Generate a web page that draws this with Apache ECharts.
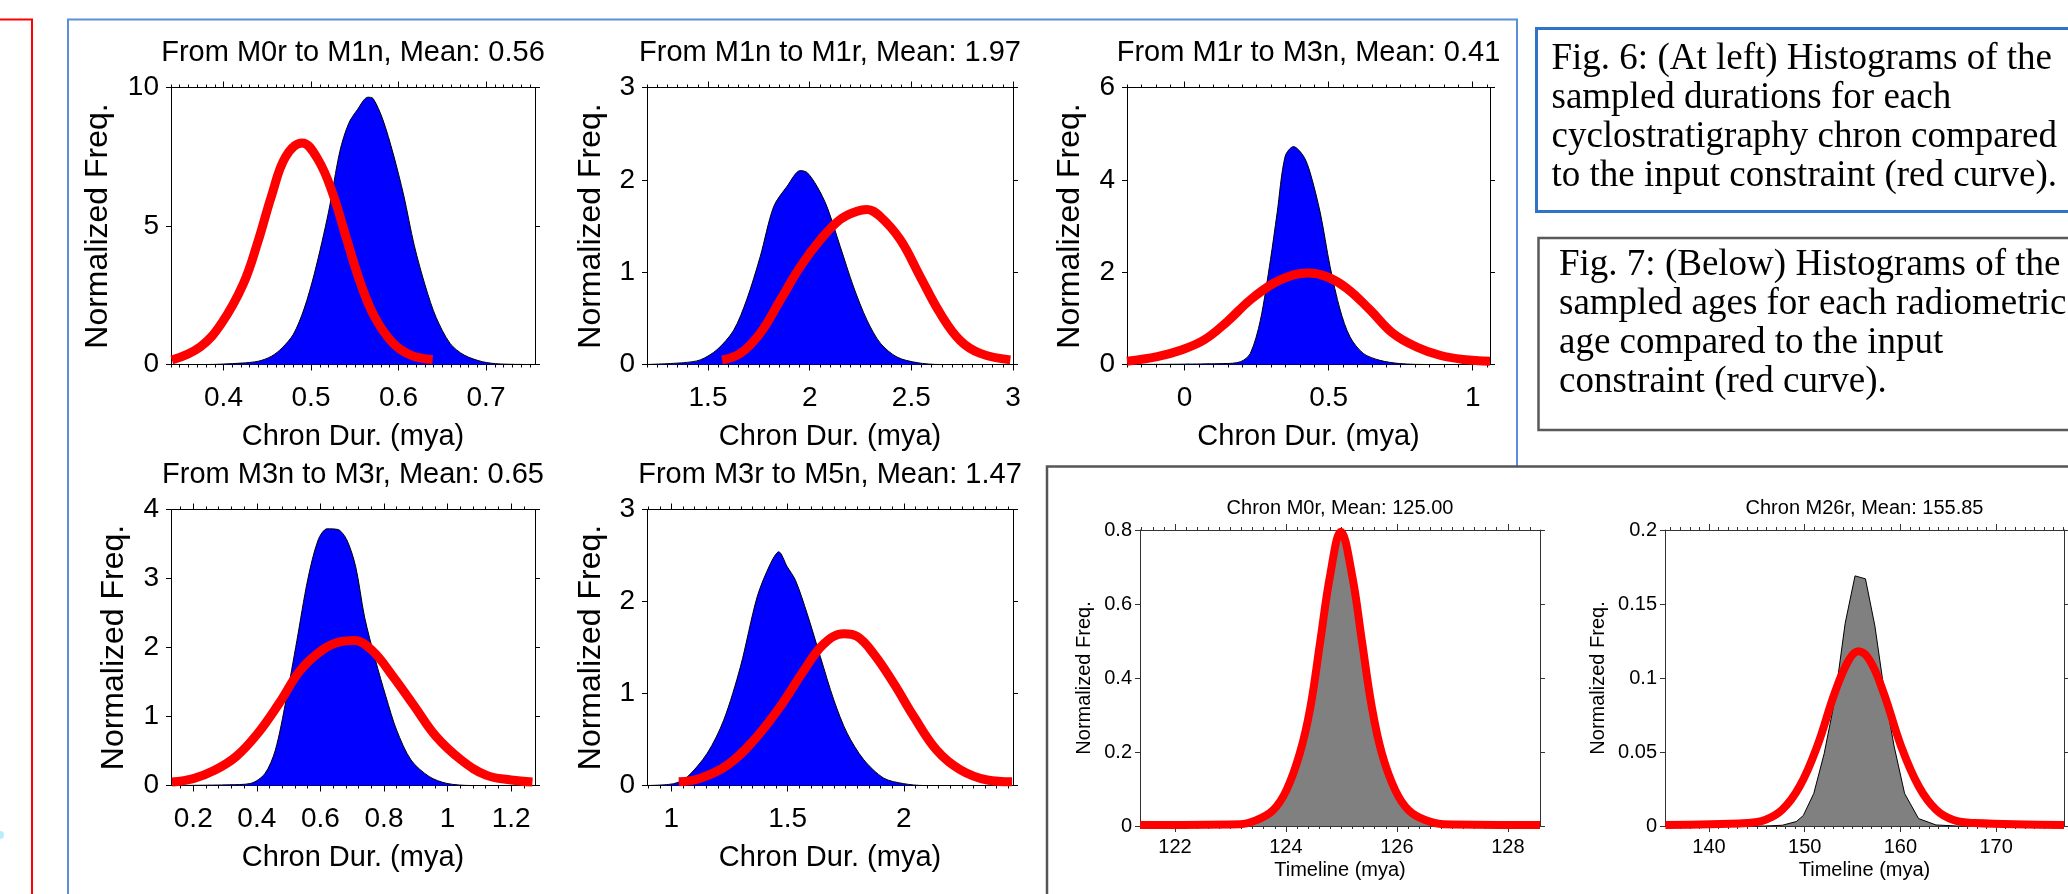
<!DOCTYPE html>
<html>
<head>
<meta charset="utf-8">
<title>Chron histograms</title>
<script src="https://cdn.jsdelivr.net/npm/echarts@6.0.0/dist/echarts.min.js"></script>
<style>
html, body { margin: 0; padding: 0; background: #fff; }
#main { width: 2068px; height: 894px; }
</style>
</head>
<body>
<div id="main"></div>
<script>
// ---- Fig. 6 : sampled durations (blue) vs input constraint (red) ----
var title1 = 'From M0r to M1n, Mean: 0.56';
var hist1 = [[0.34,0],[0.38,0],[0.42,0.05],[0.44,0.12],[0.455,0.3],[0.467,0.6],[0.48,1.1],[0.492,2.0],[0.504,3.3],[0.52,5.5],[0.533,7.7],[0.543,8.7],[0.553,9.2],[0.565,9.65],[0.571,9.6],[0.582,8.85],[0.594,7.6],[0.606,6.1],[0.618,4.3],[0.631,2.8],[0.643,1.7],[0.659,0.76],[0.675,0.34],[0.696,0.1],[0.716,0.02],[0.756,0]];
var red1 = [[0.341,0.16],[0.3735,0.64],[0.398,1.5],[0.4225,2.9],[0.439,4.4],[0.455,6.1],[0.471,7.5],[0.49,8.0],[0.508,7.4],[0.5245,6.2],[0.541,4.5],[0.557,2.9],[0.573,1.7],[0.594,0.76],[0.614,0.34],[0.639,0.18]];
var xTicks1 = [0.4, 0.5, 0.6, 0.7];

var title2 = 'From M1n to M1r, Mean: 1.97';
var hist2 = [[1.2,0],[1.38,0.02],[1.462,0.05],[1.544,0.16],[1.626,0.37],[1.69,0.7],[1.757,1.17],[1.823,1.71],[1.889,1.93],[1.954,2.1],[1.987,2.08],[2.036,1.93],[2.085,1.71],[2.15,1.28],[2.216,0.84],[2.282,0.48],[2.348,0.23],[2.43,0.08],[2.528,0.02],[2.64,0],[3,0]];
var red2 = [[1.569,0.05],[1.659,0.12],[1.757,0.34],[1.856,0.7],[1.954,1.06],[2.052,1.35],[2.15,1.57],[2.233,1.66],[2.282,1.68],[2.348,1.6],[2.446,1.35],[2.544,0.95],[2.643,0.55],[2.74,0.26],[2.839,0.12],[2.987,0.05]];
var xTicks2 = [1.5, 2, 2.5, 3];

var title3 = 'From M1r to M3n, Mean: 0.41';
var hist3 = [[-0.2,0],[0.136,0.02],[0.194,0.06],[0.228,0.24],[0.263,0.96],[0.298,2.27],[0.321,3.28],[0.349,4.51],[0.378,4.72],[0.413,4.51],[0.436,4.15],[0.471,3.28],[0.505,2.12],[0.54,1.18],[0.574,0.6],[0.62,0.24],[0.678,0.09],[0.747,0.02],[0.85,0],[1.06,0]];
var red3 = [[-0.2,0.07],[-0.095,0.17],[-0.014,0.31],[0.067,0.53],[0.148,0.93],[0.228,1.4],[0.309,1.76],[0.378,1.94],[0.43,1.98],[0.494,1.9],[0.563,1.65],[0.644,1.18],[0.724,0.67],[0.805,0.38],[0.886,0.2],[0.967,0.11],[1.06,0.07]];
var xTicks3 = [0, 0.5, 1];

var title4 = 'From M3n to M3r, Mean: 0.65';
var hist4 = [[0.13,0],[0.312,0.01],[0.38,0.03],[0.425,0.17],[0.458,0.51],[0.492,1.24],[0.526,2.1],[0.56,2.98],[0.593,3.56],[0.621,3.72],[0.655,3.71],[0.683,3.56],[0.711,3.17],[0.739,2.44],[0.773,1.82],[0.806,1.29],[0.84,0.8],[0.885,0.37],[0.942,0.13],[0.998,0.03],[1.076,0],[1.275,0]];
var red4 = [[0.133,0.05],[0.2,0.1],[0.267,0.22],[0.335,0.42],[0.402,0.75],[0.47,1.19],[0.537,1.67],[0.605,1.96],[0.661,2.08],[0.706,2.1],[0.762,1.96],[0.83,1.57],[0.897,1.14],[0.964,0.71],[1.043,0.37],[1.121,0.15],[1.2,0.08],[1.267,0.05]];
var xTicks4 = [0.2, 0.4, 0.6, 0.8, 1, 1.2];

var title5 = 'From M3r to M5n, Mean: 1.47';
var hist5 = [[0.895,0],[1.01,0.02],[1.067,0.09],[1.154,0.35],[1.225,0.71],[1.297,1.29],[1.369,2.05],[1.426,2.41],[1.462,2.54],[1.498,2.38],[1.534,2.23],[1.584,1.87],[1.641,1.4],[1.699,0.93],[1.756,0.57],[1.828,0.28],[1.914,0.08],[2.0,0.02],[2.086,0],[2.47,0]];
var red5 = [[1.032,0.04],[1.125,0.08],[1.24,0.22],[1.354,0.49],[1.469,0.86],[1.57,1.25],[1.656,1.54],[1.742,1.65],[1.8,1.62],[1.871,1.43],[1.957,1.11],[2.043,0.75],[2.143,0.38],[2.244,0.17],[2.359,0.06],[2.466,0.04]];
var xTicks5 = [1, 1.5, 2];

// ---- Fig. 7 : sampled ages (grey) vs input constraint (red) ----
var title6 = 'Chron M0r, Mean: 125.00';
var hist6 = [[121.37,0],[123.2,0.002],[123.5,0.012],[123.8,0.038],[124.02,0.09],[124.26,0.19],[124.45,0.32],[124.63,0.5],[124.81,0.68],[125.0,0.79],[125.19,0.68],[125.37,0.5],[125.55,0.32],[125.74,0.19],[125.98,0.09],[126.2,0.038],[126.5,0.012],[126.8,0.002],[128.58,0]];
var red6 = [[121.37,0.003],[123.17,0.005],[123.47,0.016],[123.77,0.043],[124.01,0.097],[124.25,0.196],[124.44,0.32],[124.62,0.5],[124.8,0.68],[124.99,0.795],[125.19,0.68],[125.37,0.5],[125.55,0.32],[125.73,0.196],[125.97,0.097],[126.21,0.043],[126.51,0.016],[126.84,0.005],[128.58,0.003]];
var xTicks6 = [122, 124, 126, 128];

var title7 = 'Chron M26r, Mean: 155.85';
var hist7 = [[135.4,0],[145.84,0],[147.66,0.0005],[149.12,0.003],[149.85,0.007],[150.95,0.022],[152.04,0.049],[153.14,0.085],[154.23,0.137],[155.26,0.169],[156.35,0.167],[157.34,0.135],[158.25,0.094],[159.34,0.054],[160.44,0.022],[161.9,0.005],[163.72,0.0007],[165.9,0],[177.1,0]];
var red7 = [[135.44,0.0007],[144.0,0.002],[145.84,0.004],[147.66,0.011],[149.49,0.027],[151.31,0.054],[153.14,0.09],[154.6,0.112],[155.62,0.118],[156.79,0.112],[158.25,0.09],[160.07,0.054],[161.9,0.027],[163.72,0.011],[165.55,0.004],[167.74,0.002],[177.1,0.0007]];
var xTicks7 = [140, 150, 160, 170];

var caption6 = ['Fig. 6: (At left) Histograms of the', 'sampled durations for each', 'cyclostratigraphy chron compared', 'to the input constraint (red curve).'];
var caption7 = ['Fig. 7: (Below) Histograms of the', 'sampled ages for each radiometric', 'age compared to the input', 'constraint (red curve).'];

// panel layout (pixel boxes of the plot areas)
var panels = [
  {title: title1, hist: hist1, red: red1, ticks: xTicks1, minor: 0.01, xMin: 0.34, xMax: 0.756, yMax: 10, yStep: 5, box: [171, 87.5, 364, 277], titleY: 53, yGap: 57, big: true},
  {title: title2, hist: hist2, red: red2, ticks: xTicks2, minor: 0.05, xMin: 1.2, xMax: 3, yMax: 3, yStep: 1, box: [647, 87.5, 366, 277], titleY: 53, yGap: 40, big: true},
  {title: title3, hist: hist3, red: red3, ticks: xTicks3, minor: 0.05, xMin: -0.2, xMax: 1.06, yMax: 6, yStep: 2, box: [1127, 87.5, 363, 277], titleY: 53, yGap: 41, big: true},
  {title: title4, hist: hist4, red: red4, ticks: xTicks4, minor: 0.04, xMin: 0.13, xMax: 1.275, yMax: 4, yStep: 1, box: [171, 509.5, 364, 276], titleY: 475, yGap: 41, big: true},
  {title: title5, hist: hist5, red: red5, ticks: xTicks5, minor: 0.05, xMin: 0.895, xMax: 2.47, yMax: 3, yStep: 1, box: [647, 509.5, 366, 276], titleY: 475, yGap: 40, big: true},
  {title: title6, hist: hist6, red: red6, ticks: xTicks6, minor: 0.2, xMin: 121.37, xMax: 128.58, yMax: 0.8, yStep: 0.2, box: [1140, 530, 400, 296], titleY: 508, yGap: 46, big: false},
  {title: title7, hist: hist7, red: red7, ticks: xTicks7, minor: 1, xMin: 135.4, xMax: 177.1, yMax: 0.2, yStep: 0.05, box: [1665, 530, 399, 296], titleY: 508, yGap: 57, big: false}
];

var sans = '"Liberation Sans", Arial, sans-serif';
var serif = '"Liberation Serif", "Times New Roman", serif';

// minor tick positions between min and max
function minorList(min, max, step) {
  var out = [];
  var k0 = Math.ceil(min / step - 1e-6), k1 = Math.floor(max / step + 1e-6);
  for (var k = k0; k <= k1; k++) out.push(+(k * step).toFixed(6));
  return out;
}

var option = {
  backgroundColor: '#fff',
  animation: false,
  title: [], grid: [], xAxis: [], yAxis: [], series: [],
  graphic: []
};

panels.forEach(function (p, i) {
  var fs = p.big ? {title: 29, label: 28, xname: 29, yname: 32, lm: 20, ng: 58, lw: 9}
                 : {title: 20, label: 20, xname: 20, yname: 20, lm: 11, ng: 34, lw: 8};
  var frame = p.big ? '#000' : '#333';
  var lineCol = {color: frame, width: 1};
  var minors = minorList(p.xMin, p.xMax, p.minor);

  option.grid.push({left: p.box[0], top: p.box[1], width: p.box[2], height: p.box[3], outerBoundsMode: 'none'});

  option.title.push({
    text: p.title, left: p.box[0] + p.box[2] / 2, top: p.titleY,
    textAlign: 'center', textVerticalAlign: 'middle', padding: 0,
    textStyle: {color: '#000', fontSize: fs.title, fontWeight: 'normal', fontFamily: sans}
  });

  function xAx(pos, major, showLine) {
    var a = {
      type: 'value', gridIndex: i, position: pos, min: p.xMin, max: p.xMax,
      splitLine: {show: false},
      axisLine: {show: showLine, onZero: false, lineStyle: lineCol},
      axisTick: {show: true, inside: false, length: major ? 6 : 3, customValues: major ? p.ticks : minors, lineStyle: lineCol},
      axisLabel: {show: false}
    };
    if (major && pos === 'bottom') {
      a.axisLabel = {show: true, customValues: p.ticks, margin: fs.lm, color: '#000', fontSize: fs.label, fontFamily: sans};
      a.name = p.big ? 'Chron Dur. (mya)' : 'Timeline (mya)';
      a.nameLocation = 'middle';
      a.nameGap = fs.ng;
      a.nameTextStyle = {color: '#000', fontSize: fs.xname, fontFamily: sans};
    }
    return a;
  }
  option.xAxis.push(xAx('bottom', true, true), xAx('bottom', false, false), xAx('top', true, true), xAx('top', false, false));

  function yAx(pos) {
    var a = {
      type: 'value', gridIndex: i, position: pos, min: 0, max: p.yMax, interval: p.yStep,
      splitLine: {show: false},
      axisLine: {show: true, onZero: false, lineStyle: lineCol},
      axisTick: {show: true, inside: false, length: 5, lineStyle: lineCol},
      axisLabel: {show: false}
    };
    if (pos === 'left') {
      a.axisLabel = {show: true, margin: p.big ? 12 : 8, color: '#000', fontSize: fs.label, fontFamily: sans};
      a.name = 'Normalized Freq.';
      a.nameLocation = 'middle';
      a.nameGap = p.yGap;
      a.nameTextStyle = {color: '#000', fontSize: fs.yname, fontFamily: sans};
    }
    return a;
  }
  option.yAxis.push(yAx('left'), yAx('right'));

  option.series.push({
    type: 'line', xAxisIndex: i * 4, yAxisIndex: i * 2, data: p.hist,
    symbol: 'none', smooth: p.big ? 0.3 : (i === 6 ? false : 0.4), silent: true,
    lineStyle: {color: '#000', width: 1},
    areaStyle: {color: p.big ? '#0000ff' : '#808080', opacity: 1}
  });
  option.series.push({
    type: 'line', xAxisIndex: i * 4, yAxisIndex: i * 2, data: p.red,
    symbol: 'none', smooth: 0.4, silent: true,
    lineStyle: {color: '#ff0000', width: fs.lw}
  });
});

// slide frames and caption boxes
option.graphic = [
  {type: 'polyline', shape: {points: [[-2, 19.5], [32, 19.5], [32, 900]]}, style: {stroke: '#ff0000', lineWidth: 2, fill: null}},
  {type: 'polyline', shape: {points: [[68, 900], [68, 19.5], [1517, 19.5], [1517, 466]]}, style: {stroke: '#5b8fd8', lineWidth: 2, fill: null}},
  {type: 'polyline', shape: {points: [[1047, 900], [1047, 466.5], [2075, 466.5]]}, style: {stroke: '#555', lineWidth: 2.5, fill: null}},
  {type: 'rect', shape: {x: 1536.5, y: 28.5, width: 600, height: 183}, style: {stroke: '#2e75c6', lineWidth: 3, fill: null}},
  {type: 'rect', shape: {x: 1538.5, y: 238, width: 600, height: 192}, style: {stroke: '#595959', lineWidth: 2.5, fill: null}},
  {type: 'circle', shape: {cx: 0, cy: 835, r: 4}, style: {fill: '#b8ecff'}},
  {type: 'text', x: 1551.5, y: 40, style: {text: caption6.join('\n'), fontSize: 37, fontFamily: serif, fill: '#000', lineHeight: 39}},
  {type: 'text', x: 1559, y: 246, style: {text: caption7.join('\n'), fontSize: 37, fontFamily: serif, fill: '#000', lineHeight: 39}}
];

var chart = echarts.init(document.getElementById('main'));
chart.setOption(option);
</script>
</body>
</html>
